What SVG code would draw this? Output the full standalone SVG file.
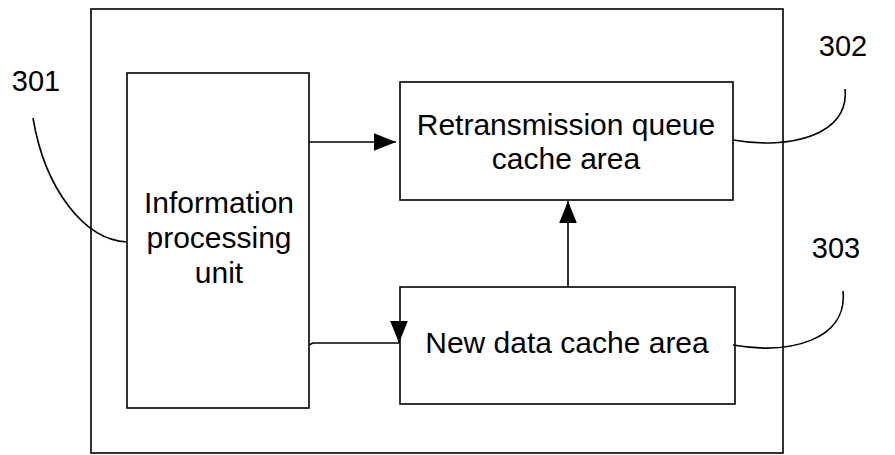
<svg xmlns="http://www.w3.org/2000/svg" width="895" height="455" viewBox="0 0 895 455">
<defs>
<style>
.box{fill:#fff;stroke:#000;stroke-width:1.6}
.ln{fill:none;stroke:#000;stroke-width:1.6}
.t{font-family:"Liberation Sans",Arial,sans-serif;font-size:30px;fill:#000;text-anchor:middle}
.l{font-family:"Liberation Sans",Arial,sans-serif;font-size:29px;fill:#000;text-anchor:middle}
</style>
<marker id="ah" viewBox="0 0 10 10" refX="10" refY="5" markerWidth="22" markerHeight="22" markerUnits="userSpaceOnUse" orient="auto"><path d="M0,1 L10,5 L0,9 Z" fill="#000"/></marker>
</defs>
<rect x="0" y="0" width="895" height="455" fill="#fff"/>
<g id="outer"><rect class="box" x="91" y="9" width="692" height="444"/></g>
<g id="info"><rect class="box" x="127" y="73" width="182" height="335"/>
<text class="t" x="219" y="213">Information</text><text class="t" x="219" y="248">processing</text><text class="t" x="219" y="283">unit</text></g>
<g id="retrans"><rect class="box" x="400" y="82" width="333" height="118"/>
<text class="t" x="566" y="135">Retransmission queue</text><text class="t" x="566" y="169">cache area</text></g>
<g id="newdata"><rect class="box" x="400" y="287" width="335" height="117"/>
<text class="t" x="567" y="353">New data cache area</text></g>
<g id="connectors">
<line class="ln" x1="309" y1="142" x2="396" y2="142" marker-end="url(#ah)"/>
<polyline class="ln" points="309,345 313,343 399,343"/>
<line class="ln" x1="399" y1="322" x2="399" y2="343" marker-end="url(#ah)"/>
<line class="ln" x1="568" y1="287" x2="568" y2="201" marker-end="url(#ah)"/>
<path class="ln" d="M33,118 C45,190 85,240 127,242"/>
<path class="ln" d="M733,140 C790,150 850,135 845,89"/>
<path class="ln" d="M733,345 C790,355 848,340 843,291"/>
</g>
<g id="labels">
<text class="l" x="36" y="91">301</text>
<text class="l" x="843" y="56">302</text>
<text class="l" x="836" y="258">303</text>
</g>
</svg>
